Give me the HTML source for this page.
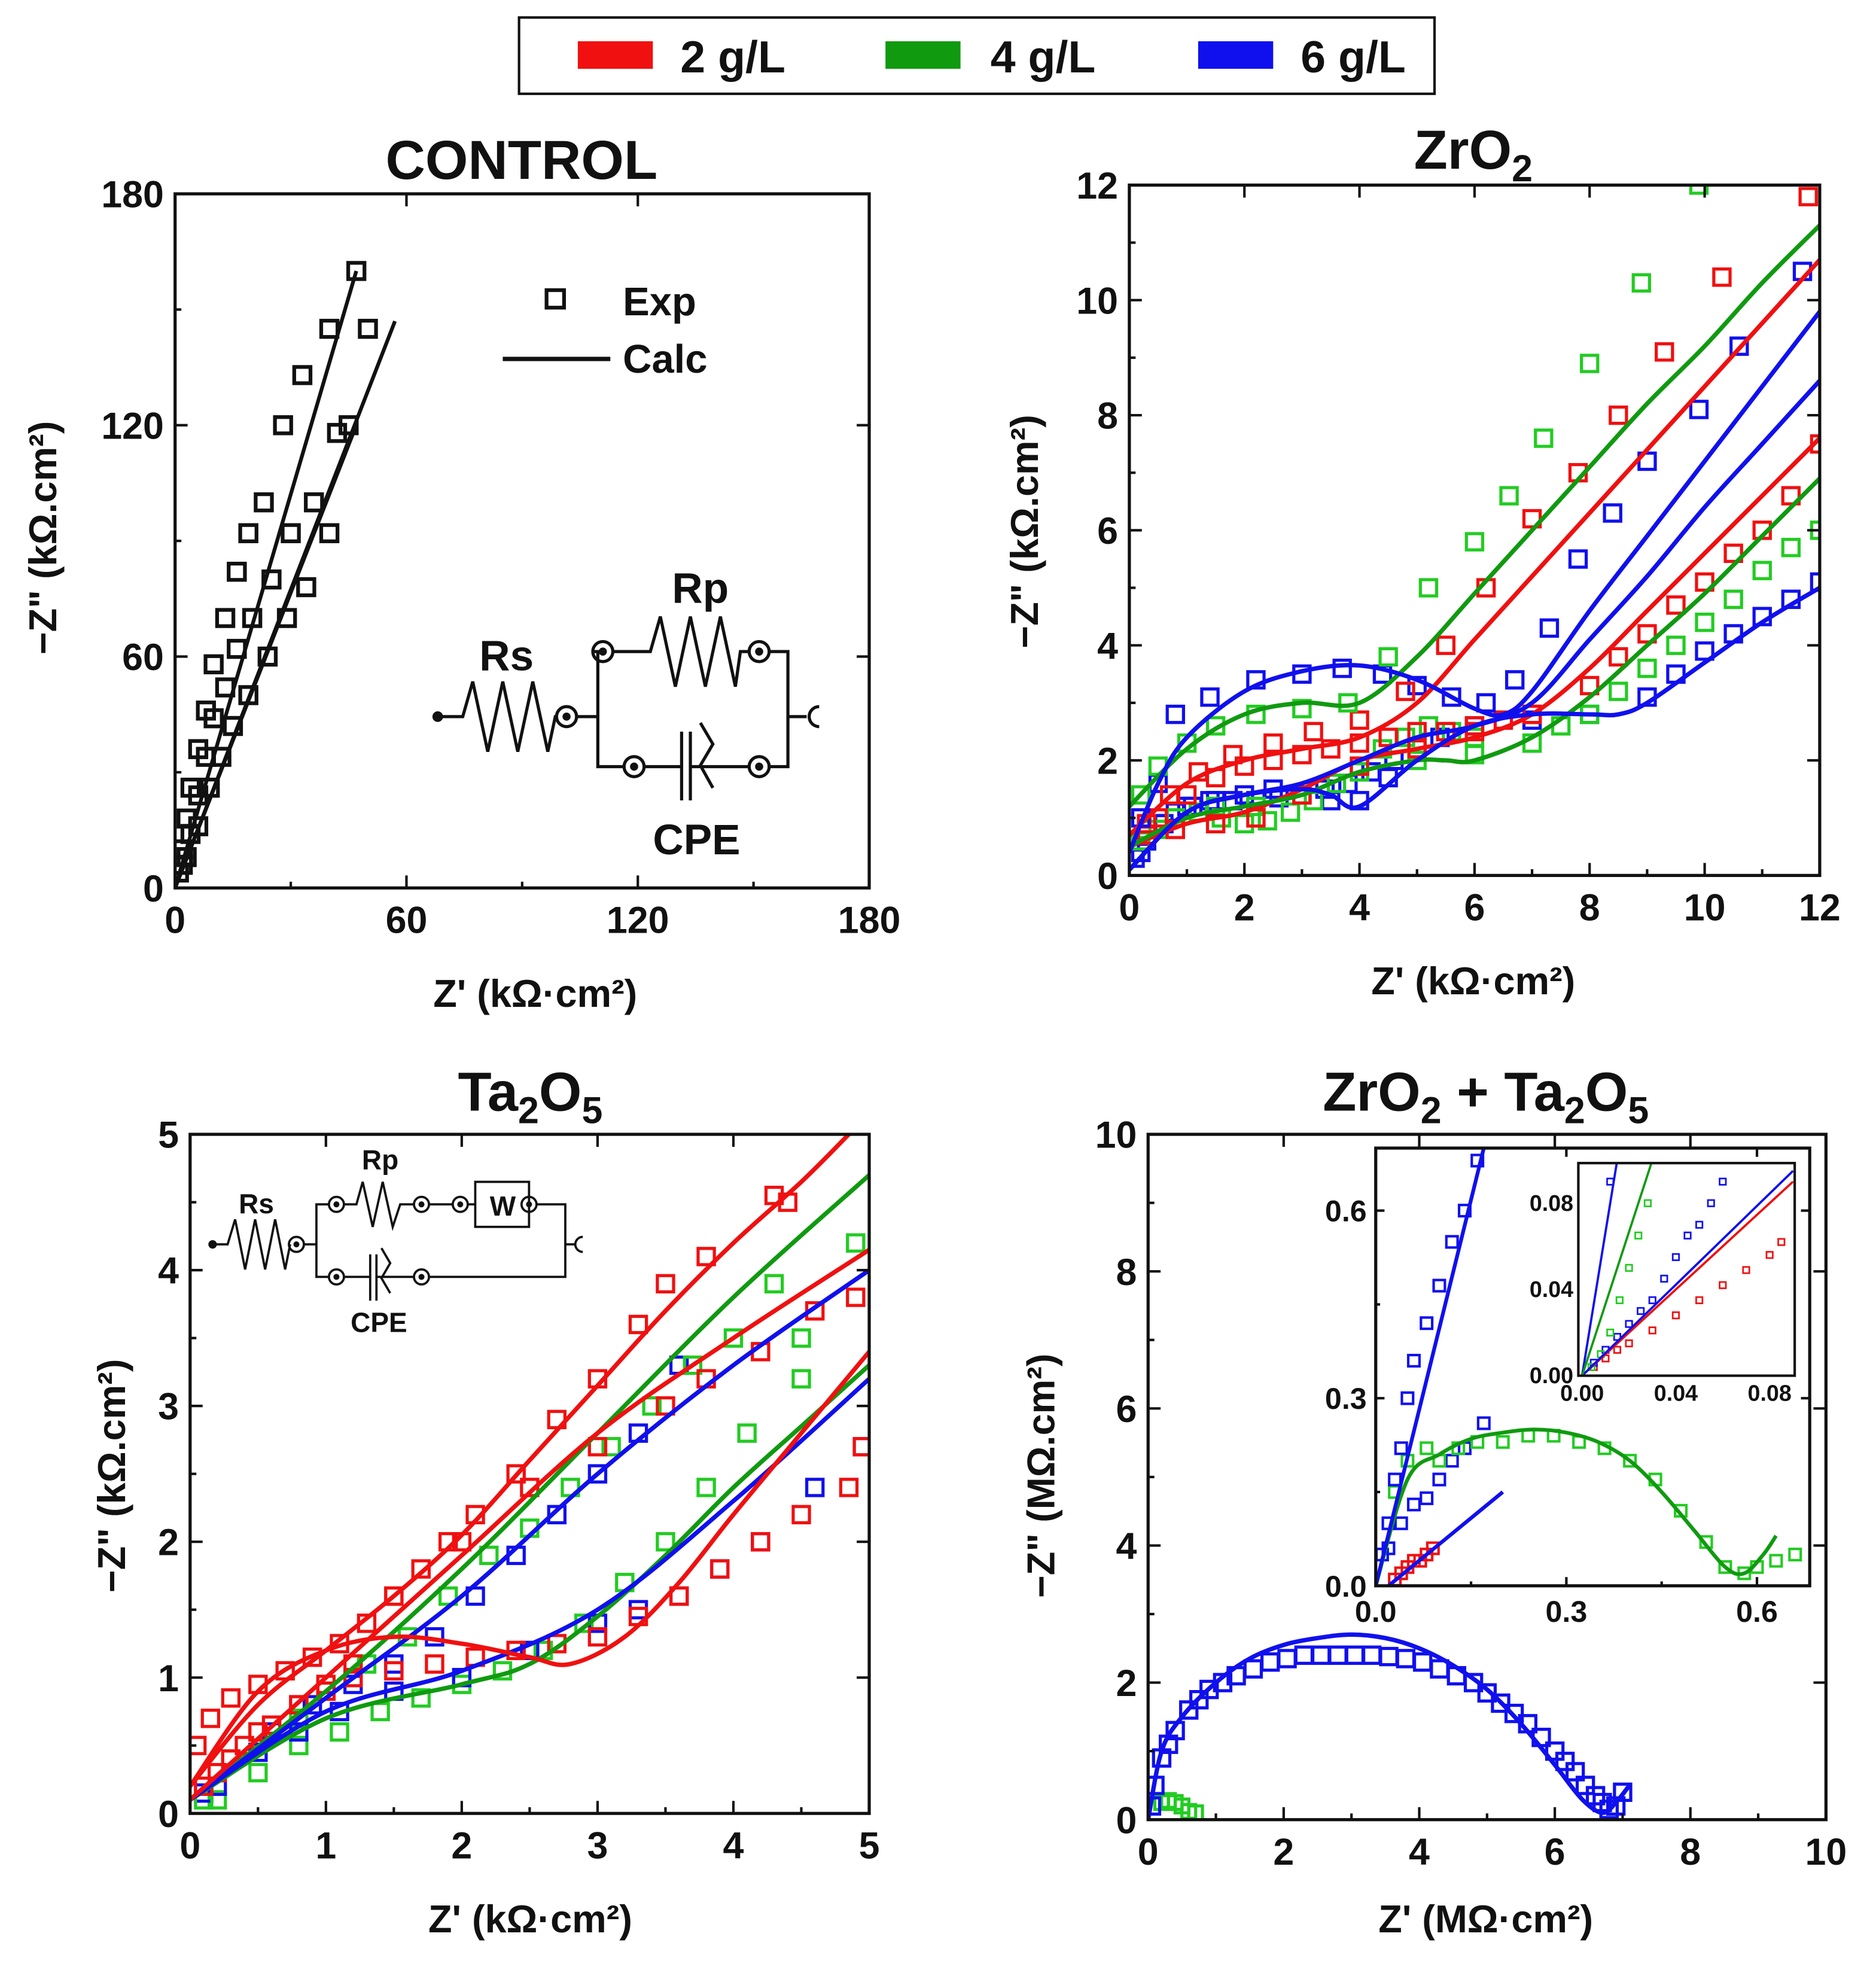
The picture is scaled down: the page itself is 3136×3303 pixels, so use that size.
<!DOCTYPE html>
<html><head><meta charset="utf-8">
<style>
html,body{margin:0;padding:0;background:#fff;}
svg{display:block;}
text{font-family:"Liberation Sans",Arial,sans-serif;font-weight:bold;fill:#111;}
</style></head>
<body>
<svg id="fig" xmlns="http://www.w3.org/2000/svg" width="3136" height="3303" viewBox="0 0 1500 1580" preserveAspectRatio="none">
  <g>
    <rect x="415" y="14" width="732" height="61" fill="#fff" stroke="#111" stroke-width="2"/>
    <rect x="462" y="33" width="60" height="22" fill="#f01010"/>
    <text x="544" y="58" font-size="36">2 g/L</text>
    <rect x="708" y="33" width="60" height="22" fill="#109a10"/>
    <text x="792" y="58" font-size="36">4 g/L</text>
    <rect x="958" y="33" width="60" height="22" fill="#1010ee"/>
    <text x="1040" y="58" font-size="36">6 g/L</text>
  </g>
  <g id="layer"></g>
</svg>
<script>
// ---------- DATA ----------
// CONTROL panel (kΩ·cm²)
const ctrlExpX1=[1,2,3,4,6,8,10,13,16,19,23,28,33,40,47];
const ctrlExpY1=[4,10,18,26,36,46,58,70,82,92,100,120,133,145,160];
const ctrlExpX2=[2,4,6,8,10,13,16,20,25,30,36,42,50];
const ctrlExpY2=[6,14,24,34,44,52,62,70,80,92,100,118,145];
const ctrlExpX3=[3,6,9,12,15,19,24,29,34,40,45];
const ctrlExpY3=[8,16,26,34,42,50,60,70,78,92,120];
const ctrlFitX1=[0,47]; const ctrlFitY1=[0,160];
const ctrlFitX2=[0,57]; const ctrlFitY2=[0,147];
const ctrlFitX3=[0,47]; const ctrlFitY3=[0,120];

// ZrO2 panel
const zrRedAX=[0.3,0.7,1.2,1.8,2.5,3.2,4,4.8,5.5,6.2,7,7.8,8.5,9.3,10.3,11.8];
const zrRedAY=[0.9,1.4,1.8,2.1,2.3,2.5,2.7,3.2,4.0,5.0,6.2,7.0,8.0,9.1,10.4,11.8];
const zrRedAFitX=[0,1,2,3,4,5,6,7,8,9,10,11,12];
const zrRedAFitY=[0.7,1.6,2.0,2.2,2.4,3.0,4.1,5.2,6.3,7.4,8.5,9.6,10.7];
const zrRedBX=[0.3,0.8,1.5,2.2,3,4,5,6,7,8,8.5,9,9.5,10,10.5,11,11.5,12];
const zrRedBY=[0.7,0.8,0.9,1.0,1.4,1.9,2.2,2.5,2.8,3.3,3.8,4.2,4.7,5.1,5.6,6.0,6.6,7.5];
const zrRedBFitX=[0,1,2,3,4,5,6,7,8,9,10,11,12];
const zrRedBFitY=[0.5,0.9,1.1,1.5,2.0,2.2,2.4,2.8,3.6,4.6,5.6,6.6,7.6];
const zrRedCX=[0.5,1,1.5,2,2.5,3,3.5,4,4.5,5,5.5,6,6.5,7];
const zrRedCY=[1.0,1.4,1.7,1.9,2.0,2.1,2.2,2.3,2.4,2.5,2.5,2.6,2.7,2.8];
const zrGrnAX=[0.2,0.5,1,1.5,2.2,3,3.8,4.5,5.2,6,6.6,7.2,8,8.9,9.9];
const zrGrnAY=[1.4,1.9,2.3,2.6,2.8,2.9,3.0,3.8,5.0,5.8,6.6,7.6,8.9,10.3,12];
const zrGrnAFitX=[0,1,2,3,4,5,6,7,8,9,10,11,12];
const zrGrnAFitY=[1.2,2.2,2.8,3.0,3.0,3.8,4.9,6.0,7.1,8.2,9.2,10.3,11.3];
const zrGrnBX=[0.3,0.8,1.5,2.2,3,4,5,6,7,7.5,8,8.5,9,9.5,10,10.5,11,11.5,12];
const zrGrnBY=[0.8,1.0,1.2,1.2,1.4,1.8,2.0,2.1,2.3,2.6,2.8,3.2,3.6,4.0,4.4,4.8,5.3,5.7,6.0];
const zrGrnBFitX=[0,1,2,3,4,5,5.5,6,7,8,9,10,11,12];
const zrGrnBFitY=[0.5,1.0,1.2,1.4,1.8,2.0,2.0,2.0,2.4,3.1,4.0,4.9,5.9,6.9];
const zrGrnCX=[0.2,0.5,0.8,1.2,1.6,2,2.4,2.8,3.2,3.6,4,4.4,4.8,5.2,5.6,6];
const zrGrnCY=[0.6,0.8,1.0,1.1,1.0,0.9,0.95,1.1,1.3,1.6,1.9,2.2,2.4,2.6,2.5,2.4];
const zrBluAX=[0.2,0.5,0.8,1.4,2.2,3,3.7,4.4,5,5.6,6.2,6.7,7.3,7.8,8.4,9,9.9,10.6,11.7];
const zrBluAY=[1.0,1.6,2.8,3.1,3.4,3.5,3.6,3.5,3.3,3.1,3.0,3.4,4.3,5.5,6.3,7.2,8.1,9.2,10.5];
const zrBluAFitX=[0,0.5,1,2,3,4,5,6,6.5,7,8,9,10,11,12];
const zrBluAFitY=[0.4,1.6,2.4,3.2,3.55,3.65,3.4,2.9,2.8,3.2,4.6,5.9,7.2,8.5,9.8];
const zrBluBX=[0.2,0.6,1,1.5,2,2.5,3,3.5,4,4.5,5,6,7,8,9,9.5,10,10.5,11,11.5,12];
const zrBluBY=[0.4,0.9,1.2,1.3,1.4,1.5,1.4,1.3,1.3,1.7,2.2,2.6,2.7,2.8,3.1,3.5,3.9,4.2,4.5,4.8,5.1];
const zrBluBFitX=[0,1,2,3,3.5,4,5,6,7,8,8.5,9,10,11,12];
const zrBluBFitY=[0.1,1.1,1.4,1.5,1.4,1.2,2.0,2.6,2.8,2.8,2.8,3.0,3.7,4.4,5.0];
const zrBluCX=[0.1,0.3,0.5,0.8,1.1,1.4,1.8,2.2,2.6,3,3.4,3.8,4.2,4.6,5,5.4];
const zrBluCY=[0.3,0.6,0.9,1.1,1.2,1.3,1.3,1.3,1.35,1.4,1.5,1.6,1.8,2.0,2.2,2.4];
const zrBluCFitX=[0,1,2,3,4,5,6,7,8,9,10,11,12];
const zrBluCFitY=[0.1,1.1,1.4,1.6,2.0,2.4,2.6,3.0,4.1,5.2,6.4,7.5,8.6];

// Ta2O5 panel
const taRedAX=[0.05,0.15,0.3,0.5,0.7,0.9,1.1,1.3,1.5,1.7,1.9,2.1,2.4,2.7,3,3.3,3.5,3.8,4.3,4.4];
const taRedAY=[0.5,0.7,0.85,0.95,1.05,1.15,1.25,1.4,1.6,1.8,2.0,2.2,2.5,2.9,3.2,3.6,3.9,4.1,4.55,4.5];
const taRedAFitX=[0,0.5,1,1.5,2,2.5,3,3.5,4,4.5,4.85];
const taRedAFitY=[0.2,0.8,1.2,1.6,2.05,2.6,3.15,3.7,4.2,4.65,5.0];
const taRedBX=[0.1,0.3,0.5,0.8,1,1.2,1.5,1.8,2.1,2.4,2.7,3,3.3,3.6,3.9,4.2,4.5,4.85,4.95];
const taRedBY=[0.2,0.4,0.6,0.8,0.9,1.0,1.05,1.1,1.15,1.2,1.25,1.3,1.45,1.6,1.8,2.0,2.2,2.4,2.7];
const taRedBFitX=[0,0.5,1,1.5,2,2.5,2.8,3.2,3.6,4,4.5,5];
const taRedBFitY=[0.2,0.9,1.2,1.3,1.25,1.15,1.1,1.3,1.7,2.2,2.8,3.4];
const taRedCX=[0.2,0.4,0.6,0.8,1,1.2,1.5,2,2.5,3,3.5,3.8,4.2,4.6,4.9];
const taRedCY=[0.3,0.5,0.65,0.8,0.95,1.1,1.6,2.0,2.4,2.7,3.0,3.2,3.4,3.7,3.8];
const taRedCFitX=[0,1,2,3,4,5];
const taRedCFitY=[0.1,1.0,1.9,2.8,3.5,4.15];
const taGrnAX=[0.1,0.3,0.5,0.8,1,1.3,1.6,1.9,2.2,2.5,2.8,3.1,3.4,3.7,4,4.3,4.5,4.9];
const taGrnAY=[0.1,0.4,0.6,0.7,0.9,1.1,1.3,1.6,1.9,2.1,2.4,2.7,3.0,3.3,3.5,3.9,3.5,4.2];
const taGrnAFitX=[0,1,2,3,4,5];
const taGrnAFitY=[0.1,0.9,1.8,2.8,3.8,4.7];
const taGrnBX=[0.2,0.5,0.8,1.1,1.4,1.7,2,2.3,2.6,2.9,3.2,3.5,3.8,4.1,4.5];
const taGrnBY=[0.1,0.3,0.5,0.6,0.75,0.85,0.95,1.05,1.2,1.4,1.7,2.0,2.4,2.8,3.2];
const taGrnBFitX=[0,1,2,2.5,3,3.5,4,4.5,5];
const taGrnBFitY=[0.1,0.7,0.95,1.1,1.45,1.9,2.4,2.85,3.3];
const taBluAX=[0.1,0.3,0.6,0.9,1.2,1.5,1.8,2.1,2.4,2.7,3,3.3,3.6];
const taBluAY=[0.15,0.4,0.6,0.8,0.95,1.1,1.3,1.6,1.9,2.2,2.5,2.8,3.3];
const taBluAFitX=[0,1,2,3,4,5];
const taBluAFitY=[0.1,0.85,1.6,2.5,3.3,4.0];
const taBluBX=[0.2,0.5,0.8,1.1,1.5,2,2.5,3,3.3,3.6,3.9,4.2,4.6,4.95];
const taBluBY=[0.2,0.45,0.6,0.75,0.9,1.0,1.2,1.4,1.5,1.6,1.8,2.0,2.4,2.7];
const taBluBFitX=[0,1,2,3,4,5];
const taBluBFitY=[0.1,0.75,1.05,1.5,2.3,3.2];

// ZrO2 + Ta2O5 main (MΩ·cm²)
const mxBluX=[0.05,0.1,0.2,0.3,0.4,0.6,0.75,0.9,1.1,1.3,1.55,1.8,2.05,2.3,2.55,2.8,3.05,3.3,3.55,3.8,4.05,4.3,4.55,4.8,5.0,5.2,5.4,5.6,5.8,6.0,6.15,6.3,6.45,6.6,6.7,6.8,6.9,7.0];
const mxBluY=[0.2,0.5,0.9,1.1,1.3,1.6,1.75,1.9,2.0,2.1,2.2,2.3,2.35,2.4,2.4,2.4,2.4,2.4,2.38,2.35,2.3,2.2,2.1,2.0,1.85,1.7,1.55,1.4,1.2,1.0,0.85,0.7,0.5,0.35,0.25,0.15,0.2,0.4];
const mxBluFitX=[0,0.2,0.5,1,1.5,2,2.5,3,3.5,4,4.5,5,5.5,6,6.4,6.7,6.9,7.1];
const mxBluFitY=[0,1.0,1.5,2.0,2.35,2.55,2.65,2.7,2.65,2.5,2.25,1.9,1.4,0.8,0.3,0.1,0.25,0.5];
const mxGrnX=[0.2,0.3,0.4,0.5,0.6,0.7];
const mxGrnY=[0.25,0.28,0.25,0.2,0.12,0.1];
// inset
const inGrnX=[0.01,0.03,0.05,0.08,0.1,0.13,0.16,0.2,0.24,0.28,0.32,0.36,0.4,0.44,0.48,0.52,0.55,0.58,0.6,0.63,0.66];
const inGrnY=[0.05,0.15,0.2,0.22,0.2,0.22,0.23,0.23,0.24,0.24,0.23,0.22,0.2,0.17,0.12,0.07,0.03,0.02,0.03,0.04,0.05];
const inGrnFitX=[0,0.05,0.1,0.15,0.2,0.25,0.3,0.35,0.4,0.45,0.5,0.55,0.58,0.61,0.63];
const inGrnFitY=[0,0.17,0.21,0.235,0.245,0.25,0.245,0.23,0.2,0.15,0.09,0.03,0.02,0.05,0.08];
const inBluAX=[0.01,0.02,0.03,0.04,0.05,0.06,0.08,0.1,0.12,0.14,0.16];
const inBluAY=[0.05,0.1,0.17,0.22,0.3,0.36,0.42,0.48,0.55,0.6,0.68];
const inBluAFitX=[0,0.17]; const inBluAFitY=[0,0.7];
const inBluBX=[0.02,0.04,0.06,0.08,0.1,0.12,0.14,0.17];
const inBluBY=[0.06,0.1,0.13,0.14,0.17,0.2,0.22,0.26];
const inBluBFitX=[0.02,0.2]; const inBluBFitY=[0,0.15];
const inRedX=[0.03,0.04,0.05,0.06,0.07,0.08,0.09];
const inRedY=[0.01,0.02,0.03,0.04,0.04,0.05,0.06];
// inner inset
const iiRedX=[0.005,0.01,0.015,0.02,0.03,0.04,0.05,0.06,0.07,0.08,0.085];
const iiRedY=[0.004,0.008,0.012,0.015,0.021,0.028,0.035,0.042,0.049,0.056,0.062];
const iiBluX=[0.005,0.01,0.015,0.02,0.025,0.03,0.035,0.04,0.045,0.05,0.055,0.06,0.012,0.016];
const iiBluY=[0.006,0.012,0.018,0.024,0.03,0.035,0.045,0.055,0.065,0.07,0.08,0.09,0.09,0.1];
const iiGrnX=[0.004,0.008,0.012,0.016,0.02,0.024,0.028];
const iiGrnY=[0.004,0.01,0.02,0.035,0.05,0.065,0.08];
const iiFitRedX=[0,0.09]; const iiFitRedY=[0,0.09];
const iiFitBluX=[0,0.09]; const iiFitBluY=[0,0.095];
const iiFitBlu2X=[0,0.015]; const iiFitBlu2Y=[0,0.1];
const iiFitGrnX=[0,0.03]; const iiFitGrnY=[0,0.1];

// ---------- DRAWING ----------
const NS='http://www.w3.org/2000/svg';
const layer=document.getElementById('layer');
const RED='#f01010', GRN='#109a10', GRNP='#22cc22', BLU='#1010ee';
function el(tag,attrs,parent){const e=document.createElementNS(NS,tag);for(const k in attrs)e.setAttribute(k,attrs[k]);(parent||layer).appendChild(e);return e;}
function axes(x0,y0,x1,y1,xmin,xmax,ymin,ymax){
  return {sx:v=>x0+(v-xmin)/(xmax-xmin)*(x1-x0), sy:v=>y1-(v-ymin)/(ymax-ymin)*(y1-y0)};
}
function frame(g,x0,y0,x1,y1,xt,yt,ax,fs,tl,fmt){
  const r=el('rect',{x:x0,y:y0,width:x1-x0,height:y1-y0,fill:'none',stroke:'#111','stroke-width':2.5},g);
  
  
  xt.forEach((v,i)=>{const X=ax.sx(v);
    el('line',{x1:X,y1:y1,x2:X,y2:y1-tl,stroke:'#111','stroke-width':2},g);
    el('line',{x1:X,y1:y0,x2:X,y2:y0+tl,stroke:'#111','stroke-width':2},g);
    if(i<xt.length-1){const X2=(X+ax.sx(xt[i+1]))/2;el('line',{x1:X2,y1:y1,x2:X2,y2:y1-tl/2,stroke:'#111','stroke-width':2},g);}
    const t=el('text',{x:X,y:y1+fs*1.2,'font-size':fs,'text-anchor':'middle'},g);t.textContent=fmt(v);
    
    });
  yt.forEach((v,i)=>{const Y=ax.sy(v);
    el('line',{x1:x0,y1:Y,x2:x0+tl,y2:Y,stroke:'#111','stroke-width':2},g);
    el('line',{x1:x1,y1:Y,x2:x1-tl,y2:Y,stroke:'#111','stroke-width':2},g);
    if(i<yt.length-1){const Y2=(Y+ax.sy(yt[i+1]))/2;el('line',{x1:x0,y1:Y2,x2:x0+tl/2,y2:Y2,stroke:'#111','stroke-width':2},g);}
    const t=el('text',{x:x0-fs*0.3,y:Y+fs*0.36,'font-size':fs,'text-anchor':'end'},g);t.textContent=fmt(v);
    
    });
}
function squares(g,ax,xs,ys,col,s,w){
  xs.forEach((x,i)=>{const r=el('rect',{x:ax.sx(x)-s/2,y:ax.sy(ys[i])-s/2,width:s,height:s,fill:'none',stroke:col,'stroke-width':w},g);
    
    });
}
function line(g,ax,xs,ys,col,w){
  const P=xs.map((x,i)=>[ax.sx(x),ax.sy(ys[i])]);
  let d='M'+P[0][0].toFixed(1)+','+P[0][1].toFixed(1);
  for(let i=0;i<P.length-1;i++){
    const p0=P[Math.max(0,i-1)],p1=P[i],p2=P[i+1],p3=P[Math.min(P.length-1,i+2)];
    const c1=[p1[0]+(p2[0]-p0[0])/6,p1[1]+(p2[1]-p0[1])/6],c2=[p2[0]-(p3[0]-p1[0])/6,p2[1]-(p3[1]-p1[1])/6];
    d+='C'+c1[0].toFixed(1)+','+c1[1].toFixed(1)+' '+c2[0].toFixed(1)+','+c2[1].toFixed(1)+' '+p2[0].toFixed(1)+','+p2[1].toFixed(1);
  }
  const p=el('path',{d:d,fill:'none',stroke:col,'stroke-width':w,'stroke-linejoin':'round'},g);
  
  
}
function clip(id,x0,y0,x1,y1){const c=el('clipPath',{id:id});el('rect',{x:x0,y:y0,width:x1-x0,height:y1-y0},c);}
function txt(g,x,y,s,fs,anchor,name,rot){const t=el('text',{x:x,y:y,'font-size':fs,'text-anchor':anchor||'middle'},g);
  if(rot)t.setAttribute('transform','rotate(-90 '+x+' '+y+')');t.innerHTML=s;
  
  return t;}
const i0=v=>String(v), f1=v=>v.toFixed(1), f2=v=>v.toFixed(2);

// ---- CONTROL ----
{const g=el('g',{});
 const ax=axes(140,155,695,710,0,180,0,180);
 clip('c1',140,155,695,710);
 const d=el('g',{'clip-path':'url(#c1)'},g);
 [[ctrlExpX1,ctrlExpY1],[ctrlExpX2,ctrlExpY2],[ctrlExpX3,ctrlExpY3]].forEach(a=>squares(d,ax,a[0],a[1],'#111',13,3));
 [[ctrlFitX1,ctrlFitY1],[ctrlFitX2,ctrlFitY2],[ctrlFitX3,ctrlFitY3]].forEach(a=>line(d,ax,a[0],a[1],'#111',3));
 frame(g,140,155,695,710,[0,60,120,180],[0,60,120,180],ax,30,10,i0);
 txt(g,417,143,'CONTROL',44,'middle','control-title');
 txt(g,428,805,'Z\'  (kΩ·cm²)',31,'middle','control-x-axis-title');
 txt(g,45,430,'−Z"  (kΩ.cm²)',31,'middle','control-y-axis-title',true);
 el('rect',{x:437,y:232,width:14,height:14,fill:'none',stroke:'#111','stroke-width':3},g);
 txt(g,498,252,'Exp',32,'start','legend-exp');
 el('line',{x1:402,y1:287,x2:488,y2:287,stroke:'#111','stroke-width':3.5},g);
 txt(g,498,298,'Calc',32,'start','legend-calc');
 const c=el('g',{stroke:'#111','stroke-width':2.5,fill:'none'},g);
 
 el('circle',{cx:350,cy:573,r:3,fill:'#111'},c);
 el('path',{d:'M350,573 L370,573 L378,545 L390,601 L402,545 L414,601 L426,545 L438,601 L444,573 L446,573'},c);
 [[453,573],[482,521],[607,521],[507,613],[607,613]].forEach(p=>{el('circle',{cx:p[0],cy:p[1],r:8},c);el('circle',{cx:p[0],cy:p[1],r:2,fill:'#111'},c);});
 el('path',{d:'M461,573 L478,573 L478,521 L474,521 M478,573 L478,613 L499,613'},c);
 el('path',{d:'M490,521 L520,521 L528,493 L540,549 L552,493 L564,549 L576,493 L588,549 L592,521 L599,521'},c);
 el('path',{d:'M515,613 L545,613 M545,585 L545,640 M552,585 L552,640 M552,613 L599,613 M560,578 L570,595 L560,612 L570,630'},c);
 el('path',{d:'M615,521 L630,521 L630,613 L615,613 M630,573 L645,573 M655,565 A8,8 0 0 0 655,581'},c);
 txt(g,405,536,'Rs',34,'middle','rs-label');
 txt(g,560,482,'Rp',34,'middle','rp-label');
 txt(g,557,683,'CPE',34,'middle','cpe-label');
}
// ---- ZrO2 ----
{const g=el('g',{});
 const ax=axes(903,148,1455,700,0,12,0,12);
 clip('c2',903,148,1455,700);
 const d=el('g',{'clip-path':'url(#c2)'},g);
 squares(d,ax,zrBluCX,zrBluCY,BLU,13,2.5);
 squares(d,ax,zrBluBX,zrBluBY,BLU,13,2.5);
 squares(d,ax,zrGrnCX,zrGrnCY,GRNP,13,2.5);
 squares(d,ax,zrGrnBX,zrGrnBY,GRNP,13,2.5);
 squares(d,ax,zrRedCX,zrRedCY,RED,13,2.5);
 squares(d,ax,zrRedBX,zrRedBY,RED,13,2.5);
 squares(d,ax,zrBluAX,zrBluAY,BLU,13,2.5);
 squares(d,ax,zrRedAX,zrRedAY,RED,13,2.5);
 squares(d,ax,zrGrnAX,zrGrnAY,GRNP,13,2.5);
 line(d,ax,zrRedAFitX,zrRedAFitY,RED,3.5);
 line(d,ax,zrRedBFitX,zrRedBFitY,RED,3.5);
 line(d,ax,zrGrnAFitX,zrGrnAFitY,GRN,3.5);
 line(d,ax,zrGrnBFitX,zrGrnBFitY,GRN,3.5);
 line(d,ax,zrBluAFitX,zrBluAFitY,BLU,3.5);
 line(d,ax,zrBluBFitX,zrBluBFitY,BLU,3.5);
 line(d,ax,zrBluCFitX,zrBluCFitY,BLU,3.5);
 frame(g,903,148,1455,700,[0,2,4,6,8,10,12],[0,2,4,6,8,10,12],ax,30,10,i0);
 txt(g,1178,135,'ZrO<tspan font-size="30" dy="10">2</tspan>',44,'middle','zro2-title');
 txt(g,1178,795,'Z\'  (kΩ·cm²)',31,'middle','zro2-x-axis-title');
 txt(g,830,425,'−Z"  (kΩ.cm²)',31,'middle','zro2-y-axis-title',true);
}
// ---- Ta2O5 ----
{const g=el('g',{});
 const ax=axes(152,907,695,1450,0,5,0,5);
 clip('c3',152,907,695,1450);
 const d=el('g',{'clip-path':'url(#c3)'},g);
 squares(d,ax,taGrnBX,taGrnBY,GRNP,13,2.5);
 squares(d,ax,taBluAX,taBluAY,BLU,13,2.5);
 squares(d,ax,taGrnAX,taGrnAY,GRNP,13,2.5);
 squares(d,ax,taBluBX,taBluBY,BLU,13,2.5);
 squares(d,ax,taRedBX,taRedBY,RED,13,2.5);
 squares(d,ax,taRedCX,taRedCY,RED,13,2.5);
 squares(d,ax,taRedAX,taRedAY,RED,13,2.5);
 line(d,ax,taGrnAFitX,taGrnAFitY,GRN,3.5);
 line(d,ax,taGrnBFitX,taGrnBFitY,GRN,3.5);
 line(d,ax,taBluAFitX,taBluAFitY,BLU,3.5);
 line(d,ax,taBluBFitX,taBluBFitY,BLU,3.5);
 line(d,ax,taRedAFitX,taRedAFitY,RED,3.5);
 line(d,ax,taRedBFitX,taRedBFitY,RED,3.5);
 line(d,ax,taRedCFitX,taRedCFitY,RED,3.5);
 frame(g,152,907,695,1450,[0,1,2,3,4,5],[0,1,2,3,4,5],ax,30,10,i0);
 txt(g,424,888,'Ta<tspan font-size="30" dy="10">2</tspan><tspan dy="-10">O</tspan><tspan font-size="30" dy="10">5</tspan>',44,'middle','ta2o5-title');
 txt(g,424,1545,'Z\'  (kΩ·cm²)',31,'middle','ta2o5-x-axis-title');
 txt(g,100,1180,'−Z"  (kΩ.cm²)',31,'middle','ta2o5-y-axis-title',true);
 const c=el('g',{stroke:'#111','stroke-width':1.8,fill:'none'},g);
 
 el('circle',{cx:170,cy:995,r:2.5,fill:'#111'},c);
 el('path',{d:'M170,995 L182,995 L188,975 L196,1015 L204,975 L212,1015 L220,975 L228,1015 L232,995'},c);
 [[237,995],[269,963],[337,963],[368,963],[423,963],[269,1021],[337,1021]].forEach(p=>{el('circle',{cx:p[0],cy:p[1],r:6},c);el('circle',{cx:p[0],cy:p[1],r:1.5,fill:'#111'},c);});
 el('path',{d:'M243,995 L253,995 L253,963 L263,963 M253,995 L253,1021 L263,1021'},c);
 el('path',{d:'M275,963 L285,963 L290,945 L298,981 L306,945 L314,981 L320,963 L331,963 M343,963 L362,963'},c);
 el('rect',{x:380,y:945,width:43,height:36},c);
 el('path',{d:'M374,963 L380,963 M429,963 L452,963 L452,1021 L343,1021 M275,1021 L296,1021 M296,1003 L296,1040 M301,1003 L301,1040 M301,1021 L331,1021 M305,998 L312,1010 L305,1022 L312,1034 M452,995 L460,995 M466,989 A6,6 0 0 0 466,1001'},c);
 txt(g,205,970,'Rs',22,'middle','rs-label-2');
 txt(g,304,935,'Rp',22,'middle','rp-label-2');
 txt(g,402,972,'W',22,'middle','w-label');
 txt(g,303,1065,'CPE',22,'middle','cpe-label-2');
}
// ---- ZrO2 + Ta2O5 ----
{const g=el('g',{});
 const ax=axes(918,907,1460,1455,0,10,0,10);
 clip('c4',918,907,1460,1455);
 const d=el('g',{'clip-path':'url(#c4)'},g);
 squares(d,ax,mxGrnX,mxGrnY,GRNP,11,2.5);
 squares(d,ax,mxBluX,mxBluY,BLU,13,2.5);
 line(d,ax,mxBluFitX,mxBluFitY,BLU,3.5);
 frame(g,918,907,1460,1455,[0,2,4,6,8,10],[0,2,4,6,8,10],ax,30,10,i0);
 txt(g,1188,888,'ZrO<tspan font-size="30" dy="10">2</tspan><tspan dy="-10"> + Ta</tspan><tspan font-size="30" dy="10">2</tspan><tspan dy="-10">O</tspan><tspan font-size="30" dy="10">5</tspan>',44,'middle','mixed-title');
 txt(g,1188,1545,'Z\'  (MΩ·cm²)',31,'middle','mixed-x-axis-title');
 txt(g,843,1180,'−Z"  (MΩ.cm²)',31,'middle','mixed-y-axis-title',true);
 const gi=el('g',{},g);
 el('rect',{x:1100,y:918,width:347,height:350,fill:'#fff'},gi);
 const ai=axes(1100,918,1447,1268,0,0.683,0,0.7);
 clip('c5',1100,918,1447,1268);
 const di=el('g',{'clip-path':'url(#c5)'},gi);
 squares(di,ai,inRedX,inRedY,RED,9,2);
 squares(di,ai,inBluBX,inBluBY,BLU,9,2);
 squares(di,ai,inGrnX,inGrnY,GRNP,9,2);
 squares(di,ai,inBluAX,inBluAY,BLU,9,2);
 line(di,ai,inGrnFitX,inGrnFitY,GRN,3);
 line(di,ai,inBluAFitX,inBluAFitY,BLU,3);
 line(di,ai,inBluBFitX,inBluBFitY,BLU,3);
 frame(gi,1100,918,1447,1268,[0,0.3,0.6],[0,0.3,0.6],ai,24,7,f1);
 const gii=el('g',{},gi);
 el('rect',{x:1262,y:930,width:173,height:170,fill:'#fff'},gii);
 const aii=axes(1265,930,1435,1100,0,0.0907,0,0.0986);
 clip('c6',1262,930,1435,1100);
 const dii=el('g',{'clip-path':'url(#c6)'},gii);
 squares(dii,aii,iiRedX,iiRedY,RED,5,1.3);
 squares(dii,aii,iiBluX,iiBluY,BLU,5,1.3);
 squares(dii,aii,iiGrnX,iiGrnY,GRNP,5,1.3);
 line(dii,aii,iiFitRedX,iiFitRedY,RED,1.8);
 line(dii,aii,iiFitBluX,iiFitBluY,BLU,1.8);
 line(dii,aii,iiFitBlu2X,iiFitBlu2Y,BLU,1.8);
 line(dii,aii,iiFitGrnX,iiFitGrnY,GRN,1.8);
 el('rect',{x:1262,y:930,width:173,height:170,fill:'none',stroke:'#111','stroke-width':2},gii);
 [0,0.04,0.08].forEach(v=>{txt(gii,aii.sx(v),1120,v.toFixed(2),18,'middle','inner-x-tick');});
 [0,0.04,0.08].forEach(v=>{txt(gii,1258,aii.sy(v)+6,v.toFixed(2),18,'end','inner-y-tick');});
}
</script>
</body></html>
